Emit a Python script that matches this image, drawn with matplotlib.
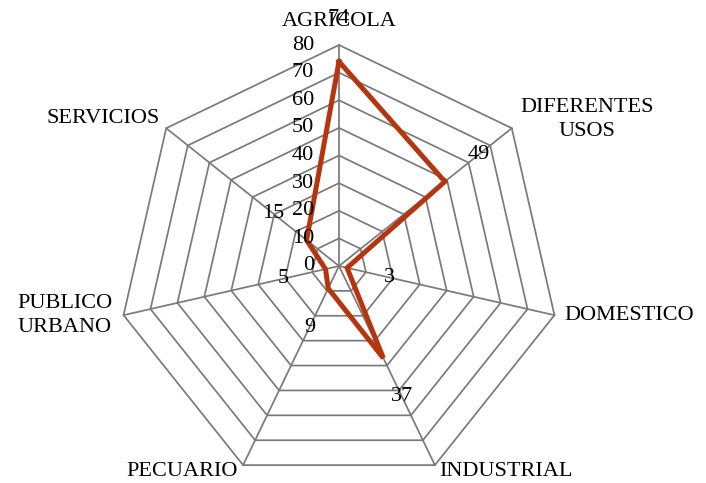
import numpy as np
import matplotlib
matplotlib.use("Agg")
import matplotlib.pyplot as plt

categories = ["AGRICOLA", "DIFERENTES\nUSOS", "DOMESTICO", "INDUSTRIAL",
              "PECUARIO", "PUBLICO\nURBANO", "SERVICIOS"]
values = [74, 49, 3, 37, 9, 5, 15]
rticks = [0, 10, 20, 30, 40, 50, 60, 70, 80]

plt.rcParams['font.family'] = ['Liberation Serif', 'DejaVu Serif']

W, H = 706, 483
fig = plt.figure(figsize=(W / 100, H / 100), dpi=100)
cx, cy, R = 339, 266, 221
ax = fig.add_axes([(cx - R) / W, (H - cy - R) / H, 2 * R / W, 2 * R / H], polar=True)
ax.set_theta_zero_location("N")
ax.set_theta_direction(-1)
ax.set_ylim(0, 80)
ax.grid(False)
ax.spines['polar'].set_visible(False)
ax.set_xticks([])
ax.set_yticks([])
ax.patch.set_alpha(0)

n = len(categories)
theta = np.arange(n) * 2 * np.pi / n
theta_c = np.append(theta, theta[0])

gcol = "#7a7a7a"
for r in rticks[1:]:
    ax.plot(theta_c, [r] * (n + 1), color=gcol, lw=1.25, clip_on=False, zorder=1)
for t in theta:
    ax.plot([t, t], [0, 80], color=gcol, lw=1.25, clip_on=False, zorder=1)

vals_c = values + [values[0]]
ax.plot(theta_c, vals_c, color="#B5360E", lw=3.6, clip_on=False, zorder=3,
        solid_joinstyle='miter')

fs = 16
# radial tick labels
for r in rticks:
    ax.annotate(str(r), xy=(0, r), xytext=(-18, 0), textcoords='offset points',
                ha='right', va='center', fontsize=fs, annotation_clip=False, zorder=4)

# data labels
off = 31
for t, v in zip(theta, values):
    ax.annotate(str(v), xy=(t, v), xytext=(off * np.sin(t), off * np.cos(t)),
                textcoords='offset points', ha='center', va='center',
                fontsize=fs, annotation_clip=False, zorder=5)

# category labels
cat_style = [
    dict(xytext=(0, 10), ha='center', va='bottom', ma='center'),
    dict(xytext=(6, 6), ha='left', va='center', ma='center'),
    dict(xytext=(7, 0), ha='left', va='center', ma='left'),
    dict(xytext=(3, 2), ha='left', va='top', ma='left'),
    dict(xytext=(-4, 2), ha='right', va='top', ma='right'),
    dict(xytext=(-8, 0), ha='right', va='center', ma='left'),
    dict(xytext=(-5, 0), ha='right', va='bottom', ma='right'),
]
for t, lab, st in zip(theta, categories, cat_style):
    ax.annotate(lab, xy=(t, 80), xytext=st['xytext'], textcoords='offset points',
                ha=st['ha'], va=st['va'], multialignment=st['ma'],
                fontsize=fs, annotation_clip=False, linespacing=1.35)

fig.savefig("out.png", dpi=100)
